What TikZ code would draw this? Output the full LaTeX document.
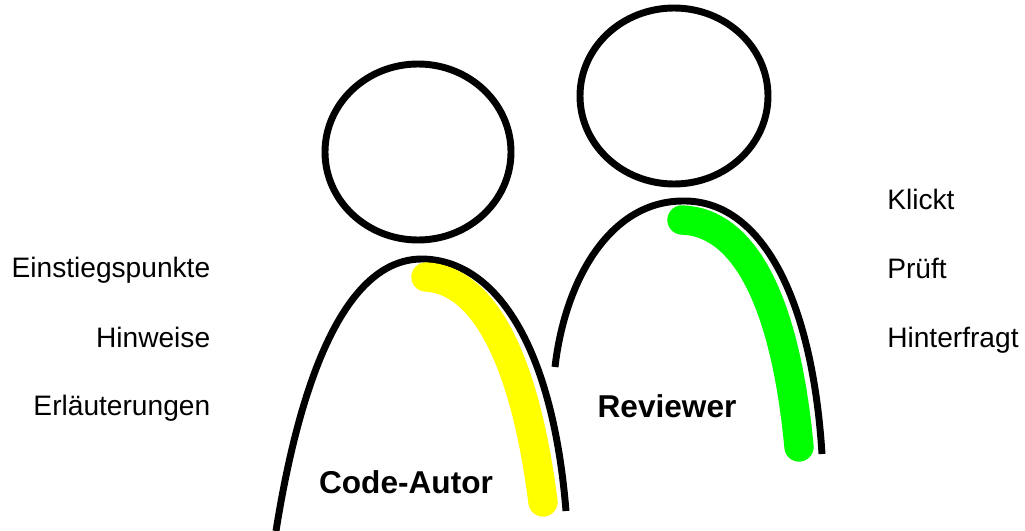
\documentclass[tikz,border=0pt]{standalone}
\usepackage{fontspec}
\setmainfont{Liberation Sans}
\definecolor{armyellow}{RGB}{255,255,0}
\definecolor{armgreen}{RGB}{0,255,0}
\tikzset{
 headline/.style={draw=black,line width=5.2pt},
 armband/.style={line width=22pt,line cap=round},
 lbl/.style={font=\fontsize{21.1pt}{25pt}\selectfont,inner sep=0pt,text=black},
 personlbl/.style={font=\fontsize{23.7pt}{28pt}\selectfont\bfseries,inner sep=0pt,text=black}
}
\begin{document}
\begin{tikzpicture}[x=0.75pt,y=-0.75pt]
\useasboundingbox (0,0) rectangle (1025,531);
\draw[headline] (418,152) ellipse [x radius=93,y radius=88];
\draw[headline] (674,96) ellipse [x radius=94,y radius=88];
% author
\draw[headline] (276,531) .. controls (300,380) and (345,259) .. (422,259) .. controls (498,260) and (553,350) .. (566,511);
\draw[armband,armyellow] (426,277) .. controls (484,280) and (525,360) .. (543,502);
% reviewer
\draw[headline] (555,367) .. controls (565,280) and (610,201) .. (683,201) .. controls (760,200) and (812,295) .. (822,454);
\draw[armband,armgreen] (682,220) .. controls (743,222) and (785,298) .. (799,447);
\node[lbl,anchor=base east] (a) at (210.5,277.5) {Einstiegspunkte};
\node[lbl,anchor=base east] (b) at (210.5,347) {Hinweise};
\node[lbl,anchor=base east] (c) at (210.5,415) {Erläuterungen};
\node[lbl,anchor=base west] (d) at (887,210) {Klickt};
\node[lbl,anchor=base west] (e) at (887,278) {Prüft};
\node[lbl,anchor=base west] (f) at (887,347) {Hinterfragt};
\node[personlbl] (g) at (406,482) {Code-Autor};
\node[personlbl] (h) at (667,406) {Reviewer};
\end{tikzpicture}
\end{document}
